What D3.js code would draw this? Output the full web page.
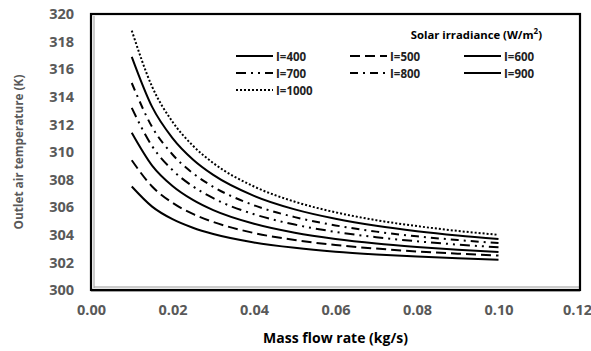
<!DOCTYPE html>
<html><head><meta charset="utf-8">
<script src="https://cdn.jsdelivr.net/npm/d3@7"></script>
<style>body{margin:0;background:#fff}svg{display:block}</style>
</head><body>
<svg id="c" width="591" height="351"></svg>
<script>
const massFlow = [0.01,0.015,0.02,0.025,0.03,0.04,0.05,0.06,0.07,0.08,0.09,0.10];
const I400  = [307.5,306.04,305.13,304.51,304.06,303.45,303.06,302.78,302.58,302.42,302.30,302.2];
const I500  = [309.4,307.50,306.32,305.51,304.93,304.13,303.62,303.26,303.00,302.79,302.63,302.5];
const I600  = [311.4,309.02,307.54,306.53,305.79,304.80,304.15,303.70,303.37,303.12,302.91,302.75];
const I700  = [313.2,310.42,308.69,307.51,306.65,305.49,304.74,304.21,303.83,303.53,303.29,303.1];
const I800  = [315.0,311.81,309.82,308.46,307.48,306.14,305.28,304.68,304.23,303.89,303.62,303.4];
const I900  = [316.9,313.27,311.01,309.46,308.34,306.82,305.84,305.16,304.65,304.26,303.95,303.7];
const I1000 = [318.8,314.73,312.19,310.46,309.20,307.50,306.40,305.63,305.06,304.63,304.28,304.0];
const seriesNames = ["I=400","I=500","I=600","I=700","I=800","I=900","I=1000"];
const seriesValues = [I400,I500,I600,I700,I800,I900,I1000];
const xTicks = [0,0.02,0.04,0.06,0.08,0.10,0.12];
const yTicks = [300,302,304,306,308,310,312,314,316,318,320];

const dashes = {"I=400":null,"I=500":"10,5","I=600":null,"I=700":"10,5,2,5,2,5","I=800":"8,5,2,5","I=900":null,"I=1000":"2,2"};

const svg = d3.select("#c");
const L=91, R=580, T=14, B=290;
const x = d3.scaleLinear().domain([0,0.12]).range([L,R]);
const y = d3.scaleLinear().domain([300,320]).range([B,T]);
const grey="#595959";
const font="'Open Sans', sans-serif";

// plot frame
svg.append("line").attr("x1",L+3).attr("x2",L+3).attr("y1",T+2).attr("y2",B-2).attr("stroke","#999").attr("stroke-width",1);
svg.append("line").attr("x1",L+3).attr("x2",R-1).attr("y1",B-3).attr("y2",B-3).attr("stroke","#999").attr("stroke-width",1);
svg.append("line").attr("x1",L).attr("x2",R).attr("y1",B+1).attr("y2",B+1).attr("stroke","#999").attr("stroke-width",1.5);
svg.append("rect").attr("x",L).attr("y",T).attr("width",R-L).attr("height",B-T)
  .attr("fill","none").attr("stroke","#000").attr("stroke-width",2.2);

// axes
const xAxis = svg.append("g").attr("transform",`translate(0,${B})`)
  .call(d3.axisBottom(x).tickValues(xTicks).tickFormat(d3.format(".2f")).tickSize(0).tickPadding(15));
const yAxis = svg.append("g").attr("transform",`translate(${L},0)`)
  .call(d3.axisLeft(y).tickValues(yTicks).tickFormat(d3.format("d")).tickSize(0).tickPadding(16));
[xAxis,yAxis].forEach(g=>{
  g.select(".domain").remove();
  g.selectAll("text").attr("fill",grey).attr("font-family",font).attr("font-weight","bold").attr("font-size","14.5px");
});
yAxis.selectAll("text").attr("dx","-1");
xAxis.selectAll("text").filter(d=>d===0.12).attr("dx","-3");

// axis titles
svg.append("text").attr("x",(L+R)/2).attr("y",343).attr("text-anchor","middle")
  .attr("font-family",font).attr("font-weight","bold").attr("font-size","14px").attr("fill","#000")
  .text("Mass flow rate (kg/s)");
svg.append("text").attr("transform",`translate(23,${(T+B)/2}) rotate(-90)`).attr("text-anchor","middle")
  .attr("font-family",font).attr("font-weight","bold").attr("font-size","11.8px").attr("fill",grey)
  .text("Outlet air temperature (K)");

// lines
const line = d3.line().x((d,i)=>x(massFlow[i])).y(d=>y(d)).curve(d3.curveMonotoneX);
seriesNames.forEach((n,k)=>{
  svg.append("path").datum(seriesValues[k]).attr("d",line).attr("fill","none")
    .attr("stroke","#000").attr("stroke-width",2)
    .attr("stroke-dasharray",dashes[n]);
});

// legend
svg.append("text").attr("x",542).attr("y",39).attr("text-anchor","end")
  .attr("font-family",font).attr("font-weight","bold").attr("font-size","11.3px").attr("fill","#000")
  .html("Solar irradiance (W/m<tspan dy='-5' font-size='8px'>2</tspan><tspan dy='5'>)</tspan>");
const colX=[236,350,464], rowY=[56,73,90];
seriesNames.forEach((n,k)=>{
  const cx=colX[k%3], cy=rowY[Math.floor(k/3)];
  svg.append("line").attr("x1",cx).attr("x2",cx+37).attr("y1",cy).attr("y2",cy)
    .attr("stroke","#000").attr("stroke-width",2).attr("stroke-dasharray",dashes[n]);
  svg.append("text").attr("x",cx+40).attr("y",cy+4.5)
    .attr("font-family",font).attr("font-weight","bold").attr("font-size","11.5px").attr("fill","#222")
    .text(n);
});
</script>
</body></html>
